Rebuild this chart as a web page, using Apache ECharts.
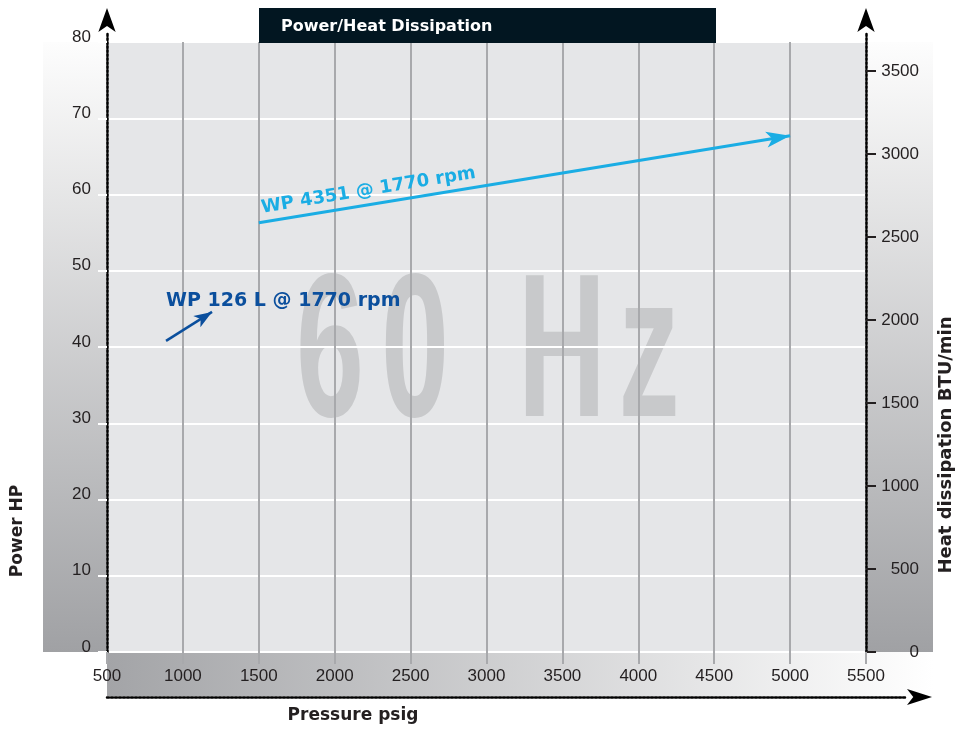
<!DOCTYPE html>
<html>
<head>
<meta charset="utf-8">
<script src="https://cdn.jsdelivr.net/npm/echarts@6/dist/echarts.min.js"></script>
<style>
html, body { margin: 0; padding: 0; background: #fff; }
#chart { width: 961px; height: 732px; }
</style>
</head>
<body>
<div id="chart"></div>
<script>
// axis ranges
const pressureMin = 500, pressureMax = 5500, pressureStep = 500;
const powerMin = 0, powerMax = 80, powerStep = 10;
const heatMin = 0, heatMax = 3675, heatStep = 500;

// WP 4351 @ 1770 rpm (psig -> HP)
const pressure4351 = [1500, 5000];
const power4351 = [56.3, 67.7];

// WP 126 L pointer arrow
const pressure126 = [889, 1192];
const power126 = [40.8, 44.6];

const name4351 = 'WP 4351 @ 1770 rpm';
const name126 = 'WP 126 L @ 1770 rpm';

const chart = echarts.init(document.getElementById('chart'));

const tickFont = { fontFamily: '"Liberation Sans", Arial, sans-serif', fontSize: 17, color: '#231f20' };
const boldFamily = '"DejaVu Sans", Verdana, sans-serif';
const dotted = { color: '#000', width: 2.5, type: [2, 2] };
const gridGray = '#a8a9ac';
const plain = v => String(v);

const option = {
    animation: false,
    title: {
        text: 'Power/Heat Dissipation',
        left: 276, top: 14,
        textStyle: { color: '#fff', fontFamily: boldFamily, fontWeight: 'bold', fontSize: 16 }
    },
    grid: [
        { left: 107, right: 95, top: 42, bottom: 80 },
        { left: 107, right: 95, top: 32, bottom: 80 },     // dotted y axes with arrows
        { left: 107, right: 54, top: 696, height: 1 }      // dotted x axis with arrow
    ],
    xAxis: [
        {
            gridIndex: 0, type: 'value',
            min: pressureMin, max: pressureMax, interval: pressureStep,
            axisLine: { show: false },
            axisTick: { show: true, length: 12, lineStyle: { color: gridGray, width: 2 } },
            splitLine: { lineStyle: { color: gridGray, width: 2 } },
            axisLabel: Object.assign({ margin: 16, formatter: plain }, tickFont)
        },
        { gridIndex: 1, type: 'value', min: 0, max: 1, show: false },
        {
            gridIndex: 2, type: 'value', min: 0, max: 1,
            axisLine: { onZero: false, lineStyle: dotted, symbol: ['none', 'arrow'], symbolSize: [12, 25], symbolOffset: [0, 25] },
            axisTick: { show: false }, axisLabel: { show: false }, splitLine: { show: false }
        }
    ],
    yAxis: [
        {
            gridIndex: 0, type: 'value',
            min: powerMin, max: powerMax, interval: powerStep,
            axisLine: { show: false },
            axisTick: { show: true, length: 9, lineStyle: { color: '#fff', width: 2 } },
            splitLine: { lineStyle: { color: '#fff', width: 2 } },
            axisLabel: Object.assign({ margin: 16, verticalAlign: 'bottom', lineHeight: 10 }, tickFont)
        },
        {
            gridIndex: 0, type: 'value', position: 'right',
            min: heatMin, max: heatMax, interval: heatStep,
            axisLine: { show: false },
            axisTick: { show: true, length: 10, lineStyle: { color: '#231f20', width: 2 } },
            splitLine: { show: false },
            axisLabel: Object.assign({ margin: 53, align: 'right', showMaxLabel: false, formatter: plain }, tickFont)
        },
        {
            gridIndex: 1, type: 'value', min: 0, max: 1, position: 'left',
            axisLine: { onZero: false, lineStyle: dotted, symbol: ['none', 'arrow'], symbolSize: [13, 24], symbolOffset: [0, 24] },
            axisTick: { show: false }, axisLabel: { show: false }, splitLine: { show: false }
        },
        {
            gridIndex: 1, type: 'value', min: 0, max: 1, position: 'right',
            axisLine: { onZero: false, lineStyle: dotted, symbol: ['none', 'arrow'], symbolSize: [13, 24], symbolOffset: [0, 24] },
            axisTick: { show: false }, axisLabel: { show: false }, splitLine: { show: false }
        },
        { gridIndex: 2, type: 'value', min: 0, max: 1, show: false }
    ],
    series: [
        {
            type: 'lines', coordinateSystem: 'cartesian2d', xAxisIndex: 0, yAxisIndex: 0,
            symbol: ['none', 'arrow'], symbolSize: [[12, 24], [12, 24]],
            lineStyle: { color: '#1aade4', width: 3, opacity: 1, curveness: 0 },
            label: {
                show: true, position: 'insideStartTop', formatter: '{b}', distance: 5,
                color: '#1aade4', fontFamily: boldFamily, fontWeight: 'bold', fontSize: 18
            },
            data: [{ name: name4351, coords: pressure4351.map((p, i) => [p, power4351[i]]) }]
        },
        {
            type: 'lines', coordinateSystem: 'cartesian2d', xAxisIndex: 0, yAxisIndex: 0,
            symbol: ['none', 'arrow'], symbolSize: [[10, 18], [10, 18]],
            lineStyle: { color: '#0b4f9d', width: 2.5, opacity: 1, curveness: 0 },
            data: [{ name: name126, coords: pressure126.map((p, i) => [p, power126[i]]) }]
        }
    ]
};
chart.setOption(option);

// decorations built from the plot rectangle
const tl = chart.convertToPixel({ xAxisIndex: 0, yAxisIndex: 0 }, [pressureMin, powerMax]);
const br = chart.convertToPixel({ xAxisIndex: 0, yAxisIndex: 0 }, [pressureMax, powerMin]);
const lbl126 = chart.convertToPixel({ xAxisIndex: 0, yAxisIndex: 0 }, [pressure126[0], 46.0]);

const vGrad = new echarts.graphic.LinearGradient(0, 0, 0, 1, [
    { offset: 0, color: '#fdfdfd' }, { offset: 1, color: '#a0a1a4' }
]);
const hGrad = new echarts.graphic.LinearGradient(0, 0, 1, 0, [
    { offset: 0, color: '#a3a4a7' }, { offset: 1, color: '#ffffff' }
]);
const markFill = '#c8c9cb';
const markFont = 'bold 204px "Liberation Sans", Arial, sans-serif';
function bigLetter(ch, cx) {
    return {
        type: 'text', x: cx, y: 360, scaleX: 0.6, z: -10, silent: true,
        style: { text: ch, x: 0, y: 0, align: 'center', verticalAlign: 'middle', font: markFont, fill: markFill }
    };
}

chart.setOption({
    graphic: [
        { type: 'rect', z: -20, shape: { x: tl[0], y: tl[1], width: br[0] - tl[0], height: br[1] - tl[1] }, style: { fill: '#e5e6e8' } },
        { type: 'rect', z: -20, shape: { x: 43, y: tl[1], width: tl[0] - 43, height: br[1] - tl[1] }, style: { fill: vGrad } },
        { type: 'rect', z: -20, shape: { x: br[0], y: tl[1], width: 933 - br[0], height: br[1] - tl[1] }, style: { fill: vGrad } },
        { type: 'rect', z: -20, shape: { x: tl[0], y: br[1], width: 933 - tl[0], height: 44 }, style: { fill: hGrad } },
        { type: 'rect', z: 5, shape: { x: 259, y: 8, width: 457, height: 35 }, style: { fill: '#021621' } },
        bigLetter('6', 330),
        bigLetter('0', 415),
        bigLetter('H', 562),
        bigLetter('z', 649),
        {
            type: 'text', x: lbl126[0], y: lbl126[1], z: 10,
            style: { text: name126, align: 'left', verticalAlign: 'middle', fill: '#0b4f9d',
                font: 'bold 19px ' + boldFamily }
        },
        {
            type: 'text', x: 18, y: 531, rotation: Math.PI / 2, z: 10,
            style: { text: 'Power HP', align: 'center', verticalAlign: 'middle', fill: '#231f20',
                font: 'bold 17px ' + boldFamily }
        },
        {
            type: 'text', x: 946, y: 445, rotation: Math.PI / 2, z: 10,
            style: { text: 'Heat dissipation BTU/min', align: 'center', verticalAlign: 'middle', fill: '#231f20',
                font: 'bold 18px ' + boldFamily }
        },
        {
            type: 'text', x: 353, y: 716, z: 10,
            style: { text: 'Pressure psig', align: 'center', verticalAlign: 'middle', fill: '#231f20',
                font: 'bold 17px ' + boldFamily }
        }
    ]
});
</script>
</body>
</html>
